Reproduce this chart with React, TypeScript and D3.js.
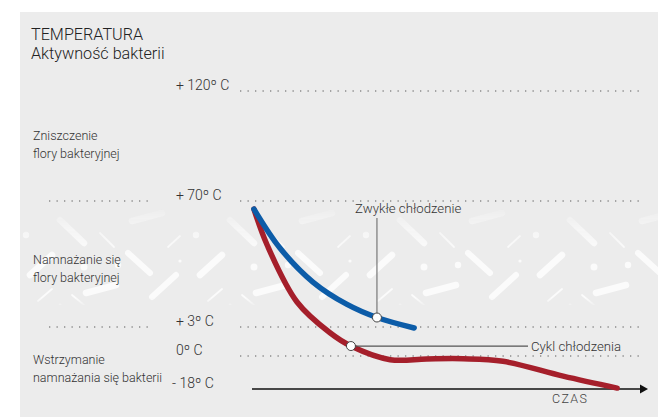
import React from "react";
import * as d3 from "d3";

// ---- data ----
const tempTicks = [120, 70, 3, 0, -18];
const tempTickLabels = ["+ 120º C", "+ 70º C", "+ 3º C", "0º C", "- 18º C"];
const zones = [
  ["Zniszczenie", "flory bakteryjnej"],
  ["Namnażanie się", "flory bakteryjnej"],
  ["Wstrzymanie", "namnażania się bakterii"],
];

const blueTime = [0.5, 7.2, 15.7, 24.5, 32.2, 41.8];
const blueTemp = [65.7, 45.0, 26.9, 15.0, 8.05, 2.9];
const blueMarkerIndex = 4;

const redTime = [0.5, 3.9, 11.6, 20.1, 25.5, 35.6, 45.0, 54.4, 64.7, 80.2, 94.1];
const redTemp = [65.7, 46.6, 16.3, 2.4, 1.03, -2.0, -1.6, -1.5, -2.9, -11.0, -17.5];
const redMarkerIndex = 4;

const blueLabel = "Zwykłe chłodzenie";
const redLabel = "Cykl chłodzenia";
const titleLines = ["TEMPERATURA", "Aktywność bakterii"];
const xAxisLabel = "CZAS";

const W = 658;
const H = 417;
const FONT = "Roboto, 'Noto Sans', sans-serif";

export default function App() {
  const x = d3.scaleLinear().domain([0, 100]).range([252, 640]);
  const y = d3
    .scaleLinear()
    .domain([-18, 0, 3, 70, 120])
    .range([389, 356, 327, 201, 91]);

  const line = d3
    .line<[number, number]>()
    .x((d) => x(d[0]))
    .y((d) => y(d[1]))
    .curve(d3.curveCatmullRom.alpha(0.5));

  const blue: [number, number][] = blueTime.map((t, i) => [t, blueTemp[i]]);
  const red: [number, number][] = redTime.map((t, i) => [t, redTemp[i]]);

  const bm = blue[blueMarkerIndex];
  const rm = red[redMarkerIndex];
  const bmx = x(bm[0]);
  const bmy = y(bm[1]);
  const rmx = x(rm[0]);
  const rmy = y(rm[1]);

  const textColor = "#333";
  const dotStyle = {
    stroke: "#8a8a8a",
    strokeWidth: 1.3,
    strokeDasharray: "1.3 6.2",
    fill: "none",
  };

  return (
    <svg
      width={W}
      height={H}
      style={{ position: "absolute", left: 0, top: 0, display: "block" }}
      fontFamily={FONT}
    >
      <defs>
        <pattern
          id="bact"
          patternUnits="userSpaceOnUse"
          x={20}
          y={205}
          width={170}
          height={100}
        >
          <g stroke="#fbfbfb" strokeLinecap="round" fill="none">
            <line x1={10} y1={70} x2={32} y2={50} strokeWidth={6.5} />
            <line x1={40} y1={15} x2={64} y2={38} strokeWidth={6.5} />
            <line x1={66} y1={88} x2={96} y2={80} strokeWidth={6.5} />
            <line x1={108} y1={48} x2={130} y2={68} strokeWidth={6} />
            <line x1={132} y1={92} x2={156} y2={70} strokeWidth={6} />
            <line x1={112} y1={16} x2={142} y2={8} strokeWidth={6.5} />
            <line x1={18} y1={96} x2={32} y2={84} strokeWidth={1.8} />
            <line x1={80} y1={28} x2={94} y2={42} strokeWidth={1.8} />
            <line x1={148} y1={42} x2={160} y2={31} strokeWidth={1.8} />
            <line x1={52} y1={90} x2={64} y2={100} strokeWidth={1.8} />
          </g>
          <g fill="#fbfbfb">
            <circle cx={64} cy={62} r={3.5} />
            <circle cx={98} cy={60} r={3.2} />
            <circle cx={160} cy={56} r={1.6} />
            <circle cx={6} cy={30} r={3.2} />
            <circle cx={40} cy={100} r={1.6} />
          </g>
        </pattern>
        <linearGradient id="fade" x1="0" y1="0" x2="0" y2="1">
          <stop offset="0" stopColor="#fff" stopOpacity={0} />
          <stop offset="0.25" stopColor="#fff" stopOpacity={0.6} />
          <stop offset="0.5" stopColor="#fff" stopOpacity={1} />
          <stop offset="0.9" stopColor="#fff" stopOpacity={1} />
          <stop offset="1" stopColor="#fff" stopOpacity={0} />
        </linearGradient>
        <mask id="fadeMask">
          <rect x={20} y={203} width={W - 20} height={105} fill="url(#fade)" />
        </mask>
      </defs>

      {/* panel */}
      <rect x={20} y={12} width={W - 20} height={H - 12} fill="#ececec" />

      {/* decorative bacteria band */}
      <rect
        x={20}
        y={203}
        width={W - 20}
        height={105}
        fill="url(#bact)"
        mask="url(#fadeMask)"
      />

      {/* title */}
      {titleLines.map((t, i) => (
        <text
          key={t}
          x={31}
          y={39.5 + i * 19}
          fontSize={16.2}
          fill="#222"
          fontWeight={300}
        >
          {t}
        </text>
      ))}

      {/* zone labels */}
      {zones.map((lines, zi) => {
        const base = zi === 0 ? 140 : zi === 1 ? 264 : 364;
        return (
          <g key={zi}>
            {lines.map((l, li) => (
              <text
                key={li}
                x={33}
                y={base + li * 17.5}
                fontSize={12.5}
                fill={textColor}
                fontWeight={300}
              >
                {l}
              </text>
            ))}
          </g>
        );
      })}

      {/* temperature ticks + dotted lines */}
      {tempTicks.map((t, i) => {
        const yy = y(t);
        return (
          <g key={t}>
            <text
              x={t === -18 ? 172 : 176}
              y={yy - 1.5}
              fontSize={14}
              fill={textColor}
              fontWeight={300}
            >
              {tempTickLabels[i]}
            </text>
            {t !== -18 && (
              <line x1={240} x2={645} y1={yy} y2={yy} style={dotStyle} />
            )}
            {(t === 70 || t === 3) && (
              <line x1={49} x2={150} y1={yy} y2={yy} style={dotStyle} />
            )}
          </g>
        );
      })}

      {/* x axis */}
      <line x1={252} x2={641} y1={y(-18)} y2={y(-18)} stroke="#111" strokeWidth={1.5} />
      <path
        d={`M${640},${y(-18) - 4.5}L${648},${y(-18)}L${640},${y(-18) + 4.5}Z`}
        fill="#111"
      />
      <text
        x={552}
        y={403}
        fontSize={12.5}
        fill="#444"
        letterSpacing={1.3}
        fontWeight={300}
      >
        {xAxisLabel}
      </text>

      {/* curves */}
      <path
        d={line(red) || ""}
        fill="none"
        stroke="#a51f2b"
        strokeWidth={5.5}
        strokeLinecap="round"
      />
      <path
        d={line(blue) || ""}
        fill="none"
        stroke="#0c5ca8"
        strokeWidth={5.5}
        strokeLinecap="round"
      />

      {/* annotations */}
      <line x1={bmx} x2={bmx} y1={bmy} y2={218} stroke="#777" strokeWidth={1.2} />
      <text x={355} y={213} fontSize={13.2} fill={textColor} fontWeight={300}>
        {blueLabel}
      </text>
      <line x1={rmx} x2={528} y1={rmy} y2={rmy} stroke="#555" strokeWidth={1.2} />
      <text x={531} y={rmy + 4.5} fontSize={13.2} fill={textColor} fontWeight={300}>
        {redLabel}
      </text>

      <circle cx={bmx} cy={bmy} r={4.5} fill="#fff" stroke="#444" strokeWidth={1} />
      <circle cx={rmx} cy={rmy} r={4.5} fill="#fff" stroke="#444" strokeWidth={1} />
    </svg>
  );
}
